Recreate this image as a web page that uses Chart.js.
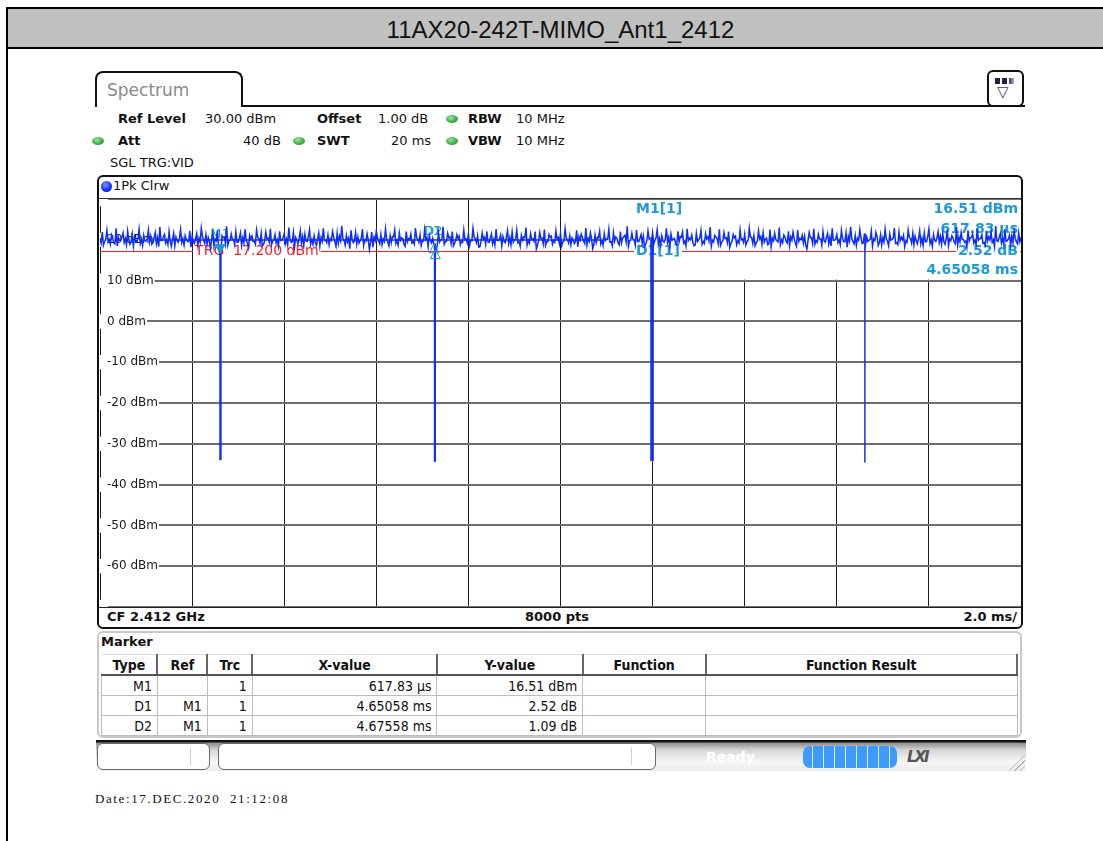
<!DOCTYPE html>
<html>
<head>
<meta charset="utf-8">
<script src="https://cdn.jsdelivr.net/npm/chart.js@4.4.1/dist/chart.umd.min.js"></script>
<style>
  body { margin: 0; width: 1103px; height: 841px; overflow: hidden; background: #fff; position: relative;
         font-family: "DejaVu Sans", Verdana, sans-serif; color: #111; }
  .abs { position: absolute; white-space: nowrap; }
  .hdr { font-size: 13px; line-height: 16px; }
  .b { font-weight: bold; }
  .led { position: absolute; width: 12px; height: 8px; border-radius: 50%;
         background: radial-gradient(ellipse at 40% 35%, #9be59b 0, #3fae45 55%, #2a8a31 100%); }
  #frame { position: absolute; left: 6px; top: 7px; width: 1097px; height: 834px; box-sizing: border-box;
           border-left: 2px solid #000; border-top: 2px solid #000; }
  #band { position: absolute; left: 8px; top: 9px; width: 1095px; height: 40px; background: #c0c0c0;
          border-bottom: 2px solid #000; font-family: "Liberation Sans", Arial, sans-serif; font-size: 24px;
          line-height: 42px; text-align: center; padding-left: 10px; box-sizing: border-box; }
  #tab { position: absolute; left: 95px; top: 71px; width: 148px; height: 36px; box-sizing: border-box;
         border: 2px solid #111; border-bottom: none; border-radius: 8px 8px 0 0; background: #fff; }
  #plotbox { position: absolute; left: 97px; top: 175px; width: 926px; height: 454px; box-sizing: border-box;
             border: 2px solid #111; border-radius: 6px; }
  #trace { position: absolute; left: 86px; top: 199px; }
  #markpanel { position: absolute; left: 97px; top: 631px; width: 925px; height: 107px; box-sizing: border-box;
               border: 2px solid #c8c8c8; border-radius: 6px; }
  #mtab { position: absolute; left: 101px; top: 654px; width: 917px; border-collapse: collapse;
          font-family: "DejaVu Sans Condensed", "DejaVu Sans", sans-serif; font-stretch: condensed; font-size: 14px; }
  #mtab th { height: 19px; padding: 0; font-weight: bold; border-right: 2px solid #666; border-bottom: 2px solid #555;
             border-top: 1px solid #ddd; text-align: center; }
  #mtab td { height: 19px; padding: 0 5px 0 0; border: 1px solid #bdbdbd; text-align: right; }
  #status { position: absolute; left: 96px; top: 740px; width: 930px; height: 31px;
            background: linear-gradient(#111 0, #111 2px, #8e8e8e 3px, #d6d6d6 10px, #f6f6f6 22px, #ececec 100%); }
  .sbox { position: absolute; top: 743px; height: 27px; box-sizing: border-box; background: #fff;
          border: 1px solid #6a6a6a; border-radius: 6px; }
</style>
</head>
<body>
<div id="frame"></div>
<div id="band">11AX20-242T-MIMO_Ant1_2412</div>

<!-- instrument tab and settings header -->
<div id="tab"></div>
<div class="abs" style="left:107px; top:80px; font-size:17px; line-height:20px; color:#8a8a8a;">Spectrum</div>
<div class="abs" style="left:241px; top:105px; width:784px; height:2px; background:#111;"></div>
<div class="abs" style="left:987px; top:70px; width:37px; height:37px; box-sizing:border-box; border:2px solid #111; border-radius:6px; background:#fff;"></div>
<div class="abs" style="left:995px; top:78px; width:22px; height:6px; background:linear-gradient(90deg, rgba(255,255,255,0) 60%, #fff 100%), repeating-linear-gradient(90deg, #1f2250 0 5px, #fff 5px 7px);"></div>
<div class="abs" style="left:997px; top:84px; font-size:15px; line-height:16px; color:#3a3d66;">▽</div>

<div class="abs hdr b" style="left:118px; top:111px;">Ref Level</div>
<div class="abs hdr" style="left:205px; top:111px;">30.00 dBm</div>
<div class="abs hdr b" style="left:317px; top:111px;">Offset</div>
<div class="abs hdr" style="left:378px; top:111px;">1.00 dB</div>
<div class="led" style="left:446px; top:115px;"></div>
<div class="abs hdr b" style="left:468px; top:111px;">RBW</div>
<div class="abs hdr" style="left:516px; top:111px;">10 MHz</div>

<div class="led" style="left:92px; top:137px;"></div>
<div class="abs hdr b" style="left:118px; top:133px;">Att</div>
<div class="abs hdr" style="left:243px; top:133px;">40 dB</div>
<div class="led" style="left:293px; top:137px;"></div>
<div class="abs hdr b" style="left:317px; top:133px;">SWT</div>
<div class="abs hdr" style="left:391px; top:133px;">20 ms</div>
<div class="led" style="left:446px; top:137px;"></div>
<div class="abs hdr b" style="left:468px; top:133px;">VBW</div>
<div class="abs hdr" style="left:516px; top:133px;">10 MHz</div>

<div class="abs hdr" style="left:110px; top:155px;">SGL TRG:VID</div>

<!-- trace window -->
<div id="plotbox"></div>
<div class="abs" style="left:101px; top:181px; width:11px; height:11px; border-radius:50%; background:radial-gradient(circle at 40% 35%, #7f95ff 0, #1530ff 55%, #0a148a 100%);"></div>
<div class="abs hdr" style="left:113px; top:178px;">1Pk Clrw</div>
<div class="abs" style="left:99px; top:198px; width:922px; height:1px; background:#333;"></div>
<canvas id="trace" width="935" height="408"></canvas>
<div class="abs" style="left:99px; top:607px; width:922px; height:1px; background:#222;"></div>
<div class="abs hdr b" style="left:107px; top:609px;">CF 2.412 GHz</div>
<div class="abs hdr b" style="left:557px; top:609px; transform:translateX(-50%);">8000 pts</div>
<div class="abs hdr b" style="right:86px; top:609px;">2.0 ms/</div>

<!-- marker table -->
<div id="markpanel"></div>
<div class="abs hdr b" style="left:101px; top:634px;">Marker</div>
<table id="mtab">
  <colgroup><col style="width:56px"><col style="width:50px"><col style="width:45px"><col style="width:185px"><col style="width:146px"><col style="width:123px"><col style="width:312px"></colgroup>
  <thead><tr><th>Type</th><th>Ref</th><th>Trc</th><th>X-value</th><th>Y-value</th><th>Function</th><th>Function Result</th></tr></thead>
  <tbody id="mrows"></tbody>
</table>

<!-- status line -->
<div id="status"></div>
<div class="sbox" style="left:97px; width:113px;"></div>
<div class="abs" style="left:190px; top:748px; width:1px; height:17px; background:#d0d0d0;"></div>
<div class="sbox" style="left:218px; width:438px;"></div>
<div class="abs" style="left:631px; top:748px; width:1px; height:17px; background:#d0d0d0;"></div>
<div class="abs b" style="left:706px; top:748px; font-size:14px; line-height:18px; color:#fff; text-shadow:0 0 2px #eee;">Ready</div>
<div class="abs" style="left:803px; top:746px; width:94px; height:22px; border-radius:7px; background:repeating-linear-gradient(90deg, #3d9bff 0 9px, #e4f0ff 9px 10px, #3d9bff 10px 11px);"></div>
<div class="abs b" style="left:907px; top:748px; font-size:15px; line-height:18px; font-style:italic; color:#555; letter-spacing:-2px;">LXI</div>
<div class="abs" style="left:1004px; top:750px; width:21px; height:21px; clip-path:polygon(100% 0, 100% 100%, 0 100%); background:repeating-linear-gradient(-45deg, transparent 0 3px, #b8b8b8 3px 4px);"></div>

<div class="abs" style="left:95px; top:791px; font-family:'Liberation Serif', 'DejaVu Serif', serif; font-size:13px; line-height:16px; letter-spacing:1.6px;">Date:17.DEC.2020&nbsp; 21:12:08</div>

<script>
// sweep: 20 ms span (2.0 ms/div), ref level 30 dBm, 10 dB/div
const sweepStart = 0;
const sweepEnd = 20;
const levelTicks = [-70, -60, -50, -40, -30, -20, -10, 0, 10, 20, 30];

// peak trace in dBm, 401 samples across the sweep
const traceLevels = [
  20.4, 21.9, 19.6, 22.3, 20.1, 21.2, 19.2, 22.8, 20.6, 19.9, 21.7, 20.3, 22.1, 18.9, 21.4, 20.8, 19.5, 22.6, 20.2, 21.1,
  19.7, 22.4, 20.9, 19.3, 21.8, 20.5, 23.1, 19.8, 21.3, 20.0, 22.0, 18.4, 21.6, 20.7, 19.4, 22.5, 20.3, 21.0, 19.6, 22.2,
  20.8, 19.1, 21.5, 20.4, 22.9, 19.9, 21.2, 20.6, 17.9, 21.8, 20.2, 22.3, 16.5, 21.0, 20.7, 23.3, 19.8, 21.4, 20.1, 22.0,
  19.4, 21.7, 20.5, 22.6, 19.2, 21.1, 20.9, 19.7, 22.4, 20.3, 21.6, 18.8, 21.9, 20.4, 22.7, 19.6, 21.3, 20.0, 22.1, 19.9,
  21.5, 20.2, 23.0, 19.4, 21.8, 20.6, 19.0, 22.2, 20.8, 21.4, 19.6, 22.5, 20.1, 21.0, 18.6, 21.7, 20.5, 22.8, 19.8, 21.2,
  20.3, 22.0, 19.5, 21.6, 20.9, 23.4, 19.9, 21.1, 20.4, 22.3, 19.3, 21.8, 20.7, 19.8, 22.6, 20.0, 21.5, 17.6, 21.9, 20.6,
  22.1, 19.7, 21.3, 20.2, 22.7, 19.4, 21.0, 20.8, 22.4, 19.9, 21.7, 20.5, 18.9, 22.0, 20.3, 21.4, 19.6, 22.9, 20.1, 21.2,
  19.8, 22.5, 20.6, 21.1, 19.2, 19.0, 17.6, 21.8, 20.0, 23.2, 19.5, 21.6, 20.7, 22.0, 19.1, 21.3, 20.9, 19.7, 22.4, 20.2,
  21.5, 19.9, 22.8, 20.3, 21.0, 18.3, 21.7, 20.6, 22.1, 19.4, 21.4, 20.1, 22.6, 19.8, 21.2, 20.8, 19.3, 22.3, 20.5, 21.9,
  20.0, 22.4, 19.6, 21.1, 20.7, 23.0, 19.9, 21.5, 20.2, 22.0, 18.7, 21.8, 20.4, 22.5, 19.5, 21.3, 20.9, 19.8, 22.2, 20.6,
  21.6, 19.4, 22.7, 20.1, 21.0, 20.5, 19.1, 22.3, 20.8, 21.4, 19.7, 22.9, 20.3, 21.7, 17.8, 21.2, 20.6, 22.1, 19.9, 21.5,
  20.2, 22.6, 19.5, 21.8, 20.7, 19.3, 22.0, 20.4, 21.1, 23.3, 19.8, 21.6, 20.0, 22.4, 19.6, 21.3, 20.9, 18.9, 22.2, 20.5,
  21.7, 19.9, 22.5, 20.3, 21.0, 19.4, 22.8, 20.6, 21.4, 20.1, 19.2, 22.1, 20.8, 21.9, 19.7, 22.7, 20.4, 21.2, 18.5, 21.6,
  20.0, 22.3, 19.6, 21.5, 20.7, 23.1, 19.9, 21.1, 20.3, 22.6, 19.4, 21.8, 20.5, 22.0, 19.1, 21.3, 20.9, 19.8, 22.4, 20.2,
  21.4, 19.5, 22.9, 20.6, 21.0, 19.3, 22.2, 20.8, 21.7, 20.1, 18.8, 22.5, 20.4, 21.6, 19.7, 23.0, 20.0, 21.2, 19.6, 22.1,
  20.7, 21.9, 19.2, 22.4, 20.3, 21.1, 20.9, 17.7, 21.8, 20.5, 22.7, 19.8, 21.4, 20.2, 22.0, 19.4, 21.6, 20.6, 22.8, 19.9,
  21.3, 20.0, 22.3, 19.5, 21.7, 20.8, 23.2, 19.6, 21.0, 20.4, 22.5, 19.1, 21.5, 20.7, 19.9, 22.1, 20.2, 21.8, 18.6, 21.2,
  20.5, 22.6, 19.7, 21.4, 20.1, 22.9, 19.3, 21.9, 20.6, 21.1, 19.8, 22.4, 20.3, 21.6, 20.9, 19.0, 22.2, 20.4, 21.7, 19.5,
  22.7, 20.0, 21.3, 19.6, 22.0, 20.8, 21.5, 18.9, 22.5, 20.2, 21.0, 19.4, 23.1, 20.6, 21.8, 20.1, 19.7, 22.3, 20.5, 21.4,
  19.9, 22.8, 20.3, 21.2, 19.3, 22.1, 20.7, 21.9, 20.0, 23.4, 19.6, 21.5, 20.4, 22.6, 19.8, 21.1, 20.9, 22.2, 19.5, 21.7,
  20.6
];

// lower edge of the band, one reading midway between each pair of samples above
const troughLevels = [
  19.2, 18.7, 20.1, 19.5, 18.9, 20.4, 19.0, 18.5, 19.8, 20.6, 19.3, 18.8, 20.0, 19.6, 18.4, 19.9, 20.3, 19.1, 18.6, 19.7,
  20.2, 19.4, 18.9, 20.5, 19.0, 18.3, 19.8, 20.7, 19.2, 18.8, 19.6, 20.1, 18.5, 19.9, 20.4, 19.3, 18.7, 20.0, 19.5, 18.2,
  19.7, 20.3, 18.6, 19.4, 20.8, 19.1, 18.9, 19.6, 20.2, 18.4, 19.8, 17.9, 16.6, 20.5, 19.0, 18.7, 19.9, 20.1, 18.8, 19.5,
  20.4, 18.6, 19.3, 19.9, 18.1, 20.2, 19.6, 18.9, 20.6, 19.1, 18.5, 19.7, 20.3, 19.4, 18.8, 20.0, 19.2, 18.4, 19.8, 20.5,
  19.0, 18.7, 20.1, 19.5, 18.3, 19.9, 20.4, 19.2, 18.6, 19.7, 20.8, 19.0, 18.9, 19.4, 20.2, 18.5, 19.6, 20.0, 19.3, 18.8,
  19.9, 20.6, 18.4, 19.1, 19.8, 20.3, 18.7, 19.5, 17.8, 20.1, 19.6, 18.9, 19.2, 20.4, 18.6, 19.7, 20.0, 19.4, 18.2, 19.8,
  20.5, 19.0, 18.8, 19.6, 20.2, 18.5, 19.3, 20.7, 19.1, 18.7, 19.9, 20.3, 18.4, 19.5, 20.0, 19.2, 18.9, 20.6, 19.4, 18.6,
  19.7, 20.1, 18.3, 19.8, 20.4, 18.9, 18.7, 19.5, 20.2, 18.9, 19.6, 20.5, 19.1, 18.5, 19.9, 20.3, 18.8, 19.4, 20.0, 19.2,
  18.6, 19.8, 20.6, 19.3, 18.2, 19.7, 20.1, 18.9, 19.5, 20.4, 19.0, 18.7, 19.9, 20.2, 18.5, 19.6, 20.7, 19.1, 18.8, 19.4,
  20.0, 19.3, 18.4, 19.9, 20.5, 18.7, 19.2, 20.1, 19.6, 17.7, 19.8, 20.3, 19.0, 18.6, 19.5, 20.6, 18.9, 19.4, 20.2, 19.1,
  18.5, 19.7, 20.4, 19.2, 18.8, 20.0, 19.5, 18.3, 19.9, 20.6, 19.1, 18.7, 19.6, 20.2, 18.9, 19.3, 20.5, 19.0, 18.6, 19.8,
  20.1, 19.4, 18.5, 19.7, 20.3, 18.8, 19.2, 20.8, 19.5, 18.4, 19.9, 20.0, 18.7, 19.6, 20.4, 19.1, 18.3, 19.8, 20.2, 19.3,
  18.9, 20.5, 19.0, 18.6, 19.7, 20.1, 19.4, 18.2, 19.9, 20.3, 18.8, 19.5, 20.6, 19.2, 18.5, 19.8, 20.0, 19.3, 18.7, 19.6,
  20.4, 18.9, 19.1, 20.2, 19.7, 18.4, 19.5, 20.7, 19.0, 18.6, 19.8, 20.3, 19.3, 18.1, 19.6, 20.5, 18.8, 19.2, 20.0, 19.4,
  18.7, 19.9, 20.6, 19.1, 18.5, 19.7, 20.2, 18.9, 19.4, 20.4, 19.0, 18.3, 19.8, 20.1, 19.5, 18.8, 19.3, 20.7, 19.2, 18.6,
  19.9, 20.3, 18.4, 19.6, 20.0, 19.2, 18.7, 19.8, 20.5, 19.1, 18.9, 19.4, 20.2, 18.6, 19.7, 20.6, 19.0, 18.5, 19.9, 20.1,
  19.3, 18.8, 20.4, 19.5, 18.2, 19.7, 20.3, 19.0, 18.6, 19.9, 20.5, 19.2, 18.9, 19.6, 20.1, 18.4, 19.8, 20.7, 19.3, 18.7,
  19.5, 20.2, 18.5, 19.9, 20.4, 19.1, 18.8, 19.7, 20.0, 18.3, 19.4, 20.6, 19.2, 18.7, 19.8, 20.3, 19.0, 18.6, 19.5, 20.8,
  19.1, 18.4, 19.9, 20.5, 19.3, 18.9, 19.6, 20.2, 18.5, 19.8, 20.4, 19.0, 18.7, 19.5, 20.1, 19.4, 18.2, 19.7, 20.6, 19.2,
  18.8, 19.9, 20.3, 19.1, 18.6, 19.7, 20.0, 19.4, 18.3, 19.8, 20.5, 19.2, 18.9, 19.6, 20.2, 18.7, 19.3, 20.4, 19.0, 19.5
];

// burst gaps: where the trace drops out, how deep, and how long (ms)
const gapTimes = [2.606, 7.262, 11.965, 16.61];
const gapFloors = [-34.0, -34.4, -34.2, -34.6];
const gapWidths = [0.02, 0.02, 0.045, 0];

const trigLevel = 17.2;

// marker list
const markerTypes = ['M1', 'D1', 'D2'];
const markerRefs = ['', 'M1', 'M1'];
const markerXText = ['617.83 µs', '4.65058 ms', '4.67558 ms'];
const markerYText = ['16.51 dBm', '2.52 dB', '1.09 dB'];
const m1Time = 2.606;
const m1Level = 16.51;
const deltaTimes = [4.65058, 4.67558];
const deltaLevels = [2.52, 1.09];

const markerTimes = [m1Time, m1Time + deltaTimes[0], m1Time + deltaTimes[1]];
const markerLevels = [m1Level, m1Level + deltaLevels[0], m1Level + deltaLevels[1]];

// marker table rows
const tbody = document.getElementById('mrows');
markerTypes.forEach((type, i) => {
  const row = document.createElement('tr');
  [type, markerRefs[i], '1', markerXText[i], markerYText[i], '', ''].forEach(txt => {
    const cell = document.createElement('td');
    cell.textContent = txt;
    row.appendChild(cell);
  });
  tbody.appendChild(row);
});

// noise band: samples interleaved with the troughs between them
const step = (sweepEnd - sweepStart) / (traceLevels.length - 1);
const bandPoints = [];
traceLevels.forEach((v, i) => {
  bandPoints.push({x: sweepStart + i * step, y: v});
  if (i < troughLevels.length) bandPoints.push({x: sweepStart + (i + 0.5) * step, y: troughLevels[i]});
});

// drop the gaps in as vertical strokes
const tracePoints = [];
let g = 0;
bandPoints.forEach(p => {
  while (g < gapTimes.length && gapTimes[g] <= p.x) {
    const top = tracePoints.length ? tracePoints[tracePoints.length - 1].y : p.y;
    const cols = Math.max(1, Math.round(gapWidths[g] / 0.02) + 1);
    for (let k = 0; k < cols; k++) {
      const x = gapTimes[g] + (cols > 1 ? k * gapWidths[g] / (cols - 1) : 0);
      tracePoints.push({x: x, y: top}, {x: x, y: gapFloors[g]}, {x: x, y: top});
    }
    g++;
  }
  tracePoints.push(p);
});

const cyan = '#1e9ad6';
const uiFont = '"DejaVu Sans", Verdana, sans-serif';

function tag(ctx, text, x, y, align, color, font, bg) {
  ctx.font = font;
  ctx.textAlign = align;
  ctx.textBaseline = 'middle';
  if (bg) {
    const w = ctx.measureText(text).width;
    const lx = align === 'right' ? x - w : align === 'center' ? x - w / 2 : x;
    ctx.fillStyle = '#fff';
    ctx.fillRect(lx - 2, y - 7, w + 4, 14);
  }
  ctx.fillStyle = color;
  ctx.fillText(text, x, y);
}

// trigger line, marker readout and marker symbols
const markerLayer = {
  id: 'markerLayer',
  beforeDatasetsDraw(chart) {
    const {ctx, chartArea: a, scales: {x, y}} = chart;
    ctx.save();
    ctx.fillStyle = '#fff';
    ctx.fillRect(a.right - 420, a.top + 1, 419, y.getPixelForValue(10) - a.top - 2);

    const ty = Math.round(y.getPixelForValue(trigLevel)) + 0.5;
    ctx.strokeStyle = '#ff2020';
    ctx.lineWidth = 1;
    ctx.beginPath();
    ctx.moveTo(a.left, ty);
    ctx.lineTo(a.right, ty);
    ctx.stroke();
    tag(ctx, 'TRG  17.200 dBm', x.getPixelForValue(2) + 3, ty, 'left', '#ff2020', '14px ' + uiFont, true);

    const bold = 'bold 14px ' + uiFont;
    tag(ctx, 'M1[1]', a.right - 385, a.top + 10, 'left', cyan, bold, false);
    tag(ctx, markerYText[0], a.right - 3, a.top + 10, 'right', cyan, bold, false);
    tag(ctx, markerXText[0], a.right - 3, a.top + 30, 'right', cyan, bold, false);
    tag(ctx, 'D1[1]', a.right - 385, a.top + 52, 'left', cyan, bold, true);
    tag(ctx, markerYText[1], a.right - 3, a.top + 52, 'right', cyan, bold, true);
    tag(ctx, markerXText[1], a.right - 3, a.top + 71, 'right', cyan, bold, false);

    const ly = y.getPixelForValue(m1Level) - 19;
    tag(ctx, 'M1', x.getPixelForValue(markerTimes[0]), ly, 'center', cyan, '13px ' + uiFont, false);
    tag(ctx, 'D2', x.getPixelForValue(markerTimes[2]) - 2, ly - 3, 'center', cyan, '13px ' + uiFont, false);
    tag(ctx, 'D1', x.getPixelForValue(markerTimes[1]) - 2, ly - 3, 'center', cyan, '13px ' + uiFont, false);
    ctx.restore();
  },
  afterDatasetsDraw(chart) {
    const {ctx, scales: {x, y}} = chart;
    ctx.save();
    // M1: filled triangle pointing down onto the trace
    const mx = x.getPixelForValue(markerTimes[0]);
    const my = y.getPixelForValue(markerLevels[0]);
    ctx.fillStyle = cyan;
    ctx.beginPath();
    ctx.moveTo(mx - 6, my - 10);
    ctx.lineTo(mx + 6, my - 10);
    ctx.lineTo(mx, my);
    ctx.closePath();
    ctx.fill();
    // delta markers: open triangles
    ctx.strokeStyle = cyan;
    ctx.lineWidth = 1;
    [1, 2].forEach(i => {
      const dx = x.getPixelForValue(markerTimes[i]);
      const dy = y.getPixelForValue(markerLevels[i]);
      ctx.beginPath();
      ctx.moveTo(dx, dy);
      ctx.lineTo(dx + 5, dy + 9);
      ctx.lineTo(dx - 5, dy + 9);
      ctx.closePath();
      ctx.stroke();
    });
    ctx.restore();
  }
};

// mirrored labels sit inside the plot, so the axis needs no extra room
const noPad = scale => { scale.paddingTop = 0; scale.paddingBottom = 0; };

new Chart(document.getElementById('trace'), {
  type: 'line',
  data: {
    datasets: [{
      data: tracePoints,
      borderColor: '#0d2cff',
      borderWidth: 1.5,
      pointRadius: 0,
      tension: 0,
      fill: false,
      segment: {
        // gap strokes are hairlines, the noise band a little heavier
        borderWidth: c => (c.p0.parsed.y < 0 || c.p1.parsed.y < 0) ? 1 : 1.5
      }
    }]
  },
  options: {
    responsive: false,
    animation: false,
    devicePixelRatio: 1,
    events: [],
    layout: {padding: 0},
    plugins: {legend: {display: false}, tooltip: {enabled: false}},
    scales: {
      x: {
        type: 'linear',
        min: sweepStart,
        max: sweepEnd,
        afterFit: noPad,
        ticks: {display: false, stepSize: 2},
        grid: {color: '#1c1c1c', lineWidth: 1, drawTicks: false},
        border: {display: false}
      },
      y: {
        min: levelTicks[0],
        max: levelTicks[levelTicks.length - 1],
        afterFit: noPad,
        afterBuildTicks: axis => { axis.ticks = levelTicks.map(v => ({value: v})); },
        ticks: {
          mirror: true,
          padding: 7,
          color: '#1a1a1a',
          font: {family: 'DejaVu Sans', size: 12},
          showLabelBackdrop: true,
          backdropColor: '#fff',
          backdropPadding: {left: 7, right: 1, top: 0, bottom: 0},
          callback: v => (v > levelTicks[0] && v < levelTicks[levelTicks.length - 1]) ? v + ' dBm' : ''
        },
        grid: {color: '#6e6e6e', lineWidth: 2, drawTicks: false},
        border: {display: false}
      }
    }
  },
  plugins: [markerLayer]
});
</script>
</body>
</html>
